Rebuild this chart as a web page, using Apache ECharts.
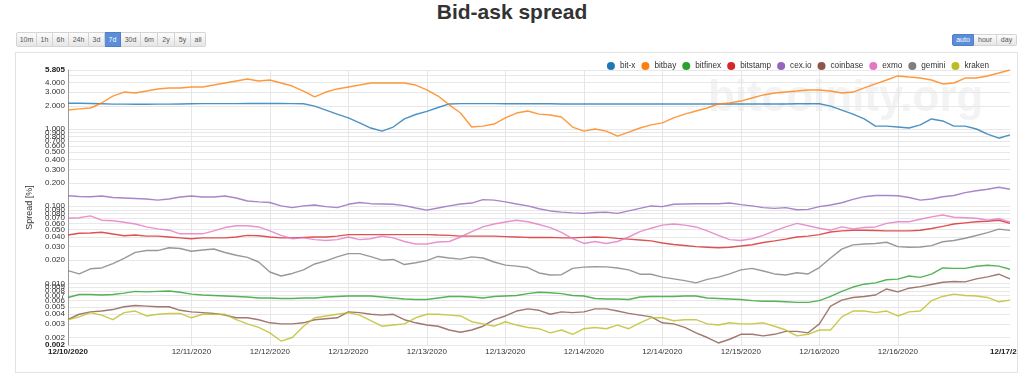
<!DOCTYPE html>
<html>
<head>
<meta charset="utf-8">
<script src="https://cdn.jsdelivr.net/npm/echarts@6/dist/echarts.min.js"></script>
<style>
  html, body { margin: 0; padding: 0; background: #fff; width: 1024px; height: 377px; overflow: hidden; font-family: 'Liberation Sans', Arial, sans-serif; }
  #title { position: absolute; left: 0; top: 0; width: 1024px; line-height: 24px; text-align: center; font-size: 21px; font-weight: bold; color: #333; }
  .btns { position: absolute; display: flex; }
  .btns span { display: block; box-sizing: border-box; text-align: center; font-size: 7px; color: #555;
    background: linear-gradient(#fcfcfc, #e6e6e6); border: 1px solid #d4d4d4; border-left: none; }
  .btns span:first-child { border-left: 1px solid #d4d4d4; border-radius: 2px 0 0 2px; }
  .btns span:last-child { border-radius: 0 2px 2px 0; }
  .btns span.on { background: #5b8dd9; border-color: #4f7fc9; color: #fff; }
  #range { left: 16px; top: 32px; }
  #range span { height: 15px; line-height: 13px; }
  #step { left: 952px; top: 34px; }
  #step span { height: 12px; line-height: 10px; }
  #card { position: absolute; left: 15px; top: 52px; width: 1001px; height: 319px; border: 1px solid #e2e2e2; }
  #chart { position: absolute; left: 0; top: 0; width: 1017px; height: 377px; }
</style>
</head>
<body>
<div id="title">Bid-ask spread</div>
<div id="range" class="btns"></div>
<div id="step" class="btns"></div>
<div id="card"></div>
<div id="chart"></div>
<script>
// 7 days, one point every 2 hours
const hours = Array.from({ length: 85 }, (_, i) => i * 2);

const tickIndex = [0, 11, 18, 25, 32, 39, 46, 53, 60, 67, 74, 84];
const tickLabels = ['12/10/2020', '12/11/2020', '12/12/2020', '12/12/2020', '12/13/2020', '12/13/2020',
  '12/14/2020', '12/14/2020', '12/15/2020', '12/16/2020', '12/16/2020', '12/17/2020'];

const yMin = 0.0016;
const yMax = 5.805;
const yLabelValues = [0.002, 0.003, 0.004, 0.005, 0.006, 0.007, 0.008, 0.009,
  0.01, 0.02, 0.03, 0.04, 0.05, 0.06, 0.07, 0.08, 0.09,
  0.1, 0.2, 0.3, 0.4, 0.5, 0.6, 0.7, 0.8, 0.9,
  1, 2, 3, 4];
const yGridValues = yLabelValues.concat([5]);

const names = ['bit-x', 'bitbay', 'bitfinex', 'bitstamp', 'cex.io', 'coinbase', 'exmo', 'gemini', 'kraken'];
const colors = ['#1f77b4', '#ff7f0e', '#2ca02c', '#d62728', '#9467bd', '#8c564b', '#e377c2', '#7f7f7f', '#bcbd22'];

const bitx = [
  2.15, 2.15, 2.14, 2.12, 2.10, 2.10, 2.09, 2.09, 2.10, 2.10,
  2.11, 2.12, 2.13, 2.13, 2.13, 2.13, 2.14, 2.14, 2.14, 2.14,
  2.13, 2.12, 1.98, 1.76, 1.56, 1.39, 1.20, 1.03, 0.94, 1.06,
  1.35, 1.54, 1.69, 1.90, 2.11, 2.13, 2.13, 2.13, 2.13, 2.12,
  2.12, 2.12, 2.12, 2.12, 2.11, 2.11, 2.11, 2.11, 2.11, 2.11,
  2.11, 2.11, 2.11, 2.11, 2.11, 2.11, 2.11, 2.11, 2.11, 2.11,
  2.11, 2.11, 2.11, 2.11, 2.11, 2.12, 2.12, 2.12, 1.98, 1.76,
  1.56, 1.35, 1.09, 1.09, 1.06, 1.03, 1.13, 1.35, 1.27, 1.09,
  1.09, 1.00, 0.86, 0.76, 0.84
];
const bitbay = [
  1.76, 1.82, 1.87, 2.17, 2.67, 3.01, 2.92, 3.10, 3.30, 3.40,
  3.40, 3.50, 3.50, 3.71, 3.94, 4.18, 4.44, 4.18, 4.31, 3.94,
  3.60, 3.10, 2.60, 3.01, 3.30, 3.50, 3.71, 3.94, 3.94, 3.94,
  3.94, 3.71, 3.20, 2.67, 2.05, 1.61, 1.06, 1.09, 1.16, 1.39,
  1.61, 1.71, 1.56, 1.52, 1.43, 1.06, 0.94, 1.00, 0.94, 0.81,
  0.91, 1.03, 1.13, 1.20, 1.39, 1.56, 1.71, 1.87, 2.11, 2.17,
  2.30, 2.52, 2.76, 2.92, 3.01, 3.10, 3.20, 3.20, 3.10, 2.92,
  3.01, 3.40, 3.83, 4.31, 4.86, 4.71, 4.57, 4.31, 3.83, 3.94,
  4.57, 4.57, 4.86, 5.31, 5.805
];
const bitfinex = [
  0.0066, 0.0072, 0.0072, 0.0071, 0.0072, 0.0075, 0.0079, 0.0078, 0.0079, 0.0080,
  0.0077, 0.0073, 0.0071, 0.0070, 0.0069, 0.0068, 0.0067, 0.0065, 0.0065, 0.0064,
  0.0064, 0.0065, 0.0065, 0.0067, 0.0068, 0.0069, 0.0069, 0.0069, 0.0067, 0.0065,
  0.0063, 0.0062, 0.0062, 0.0065, 0.0068, 0.0068, 0.0067, 0.0065, 0.0068, 0.0069,
  0.0070, 0.0074, 0.0077, 0.0076, 0.0074, 0.0070, 0.0069, 0.0064, 0.0063, 0.0063,
  0.0062, 0.0067, 0.0068, 0.0068, 0.0068, 0.0069, 0.0069, 0.0065, 0.0064, 0.0063,
  0.0062, 0.0060, 0.0059, 0.0059, 0.0058, 0.0057, 0.0057, 0.0060, 0.0068, 0.0079,
  0.0090, 0.0098, 0.0102, 0.0112, 0.0114, 0.0125, 0.0120, 0.0132, 0.0159, 0.0157,
  0.0157, 0.0167, 0.0172, 0.0168, 0.0153
];
const bitstamp = [
  0.0424, 0.0448, 0.0450, 0.0460, 0.0437, 0.0415, 0.0424, 0.0410, 0.0410, 0.0400,
  0.0390, 0.0380, 0.0390, 0.0390, 0.0390, 0.0400, 0.0420, 0.0415, 0.0400, 0.0390,
  0.0390, 0.0395, 0.0400, 0.0400, 0.0410, 0.0430, 0.0430, 0.0430, 0.0430, 0.0430,
  0.0430, 0.0430, 0.0430, 0.0424, 0.0420, 0.0410, 0.0410, 0.0410, 0.0410, 0.0405,
  0.0400, 0.0395, 0.0395, 0.0395, 0.0390, 0.0390, 0.0395, 0.0400, 0.0395, 0.0384,
  0.0375, 0.0366, 0.0356, 0.0335, 0.0320, 0.0310, 0.0300, 0.0295, 0.0290, 0.0295,
  0.0306, 0.0318, 0.0340, 0.0356, 0.0375, 0.0400, 0.0410, 0.0430, 0.0464, 0.0480,
  0.0490, 0.0490, 0.0485, 0.0480, 0.0480, 0.0480, 0.0490, 0.0515, 0.0550, 0.0590,
  0.0610, 0.0630, 0.0640, 0.0660, 0.0600
];
const cexio = [
  0.137, 0.134, 0.133, 0.136, 0.130, 0.128, 0.126, 0.124, 0.120, 0.124,
  0.132, 0.136, 0.132, 0.132, 0.136, 0.128, 0.117, 0.114, 0.112, 0.101,
  0.096, 0.101, 0.104, 0.099, 0.096, 0.106, 0.112, 0.108, 0.107, 0.106,
  0.102, 0.095, 0.089, 0.095, 0.101, 0.107, 0.110, 0.122, 0.120, 0.114,
  0.107, 0.101, 0.093, 0.087, 0.084, 0.082, 0.081, 0.083, 0.084, 0.081,
  0.087, 0.094, 0.101, 0.099, 0.106, 0.107, 0.108, 0.108, 0.108, 0.110,
  0.105, 0.101, 0.096, 0.094, 0.096, 0.090, 0.091, 0.099, 0.104, 0.111,
  0.123, 0.133, 0.138, 0.138, 0.137, 0.130, 0.120, 0.124, 0.133, 0.138,
  0.150, 0.159, 0.166, 0.176, 0.166
];
const coinbase = [
  0.00344, 0.0040, 0.0043, 0.0044, 0.0046, 0.0050, 0.0052, 0.0051, 0.0050, 0.0050,
  0.0045, 0.0043, 0.0042, 0.0041, 0.0039, 0.0036, 0.0036, 0.0034, 0.0031, 0.0030,
  0.0030, 0.0031, 0.0034, 0.0035, 0.0036, 0.0043, 0.0042, 0.0040, 0.0039, 0.0040,
  0.0034, 0.0031, 0.0029, 0.0028, 0.0025, 0.00234, 0.0025, 0.0028, 0.0034, 0.0038,
  0.0044, 0.0047, 0.0045, 0.0040, 0.0043, 0.0042, 0.0043, 0.0047, 0.0047, 0.0044,
  0.0041, 0.0039, 0.0037, 0.0031, 0.0030, 0.0027, 0.0023, 0.0020, 0.0017, 0.0019,
  0.0022, 0.0022, 0.0021, 0.0022, 0.0024, 0.0024, 0.0023, 0.0030, 0.0051, 0.0061,
  0.0066, 0.0068, 0.0071, 0.0085, 0.0078, 0.0087, 0.0091, 0.0097, 0.0104, 0.0106,
  0.0105, 0.0115, 0.0122, 0.0132, 0.0115
];
const exmo = [
  0.070, 0.071, 0.075, 0.066, 0.065, 0.062, 0.059, 0.054, 0.051, 0.049,
  0.044, 0.044, 0.044, 0.048, 0.053, 0.056, 0.056, 0.054, 0.048, 0.042,
  0.038, 0.039, 0.037, 0.036, 0.037, 0.040, 0.037, 0.038, 0.041, 0.039,
  0.035, 0.0325, 0.0325, 0.0345, 0.035, 0.040, 0.047, 0.054, 0.059, 0.0625,
  0.066, 0.063, 0.058, 0.053, 0.046, 0.038, 0.033, 0.035, 0.033, 0.035,
  0.040, 0.047, 0.052, 0.057, 0.059, 0.057, 0.054, 0.048, 0.042, 0.037,
  0.036, 0.038, 0.042, 0.048, 0.054, 0.060, 0.056, 0.052, 0.049, 0.054,
  0.051, 0.053, 0.054, 0.060, 0.063, 0.063, 0.068, 0.073, 0.077, 0.072,
  0.071, 0.070, 0.066, 0.069, 0.0625
];
const gemini = [
  0.0147, 0.0133, 0.0155, 0.0159, 0.0181, 0.0211, 0.0253, 0.0267, 0.0267, 0.0290,
  0.0284, 0.0262, 0.0271, 0.0280, 0.0252, 0.0232, 0.0218, 0.0190, 0.0141, 0.0125,
  0.0135, 0.0150, 0.0179, 0.0196, 0.0221, 0.0244, 0.0244, 0.0223, 0.0201, 0.0205,
  0.0176, 0.0186, 0.0198, 0.0224, 0.0214, 0.0207, 0.0221, 0.0214, 0.0190, 0.0173,
  0.0168, 0.0161, 0.0137, 0.0129, 0.0130, 0.0157, 0.0163, 0.0165, 0.0164, 0.0159,
  0.0150, 0.0132, 0.0132, 0.0121, 0.0115, 0.0109, 0.0102, 0.0113, 0.0121, 0.0133,
  0.0150, 0.0157, 0.0145, 0.0133, 0.0129, 0.0138, 0.0133, 0.0161, 0.0214, 0.0279,
  0.0316, 0.0325, 0.0330, 0.0342, 0.0300, 0.0295, 0.0297, 0.0309, 0.0347, 0.0361,
  0.0385, 0.0418, 0.0455, 0.0506, 0.0487
];
const kraken = [
  0.0034, 0.0037, 0.0042, 0.0039, 0.0034, 0.0042, 0.0044, 0.0038, 0.0040, 0.0041,
  0.0041, 0.0036, 0.0040, 0.0040, 0.0040, 0.0034, 0.0030, 0.0027, 0.0023, 0.0018,
  0.0020, 0.0028, 0.0036, 0.0038, 0.0040, 0.0042, 0.0039, 0.0033, 0.0028, 0.0029,
  0.0030, 0.0036, 0.0040, 0.0040, 0.0039, 0.0038, 0.0032, 0.0030, 0.0028, 0.0032,
  0.0029, 0.0027, 0.0026, 0.0023, 0.0025, 0.0022, 0.0026, 0.0027, 0.0026, 0.0029,
  0.0026, 0.0031, 0.0036, 0.0036, 0.0033, 0.0034, 0.0034, 0.0030, 0.0029, 0.0031,
  0.0030, 0.0030, 0.0031, 0.0028, 0.0025, 0.0021, 0.0022, 0.0025, 0.0025, 0.0037,
  0.0044, 0.0044, 0.0042, 0.0044, 0.0038, 0.0043, 0.0044, 0.0060, 0.0068, 0.0073,
  0.0070, 0.0069, 0.0066, 0.0058, 0.0061
];
const seriesValues = [bitx, bitbay, bitfinex, bitstamp, cexio, coinbase, exmo, gemini, kraken];

const rangeButtons = ['10m', '1h', '6h', '24h', '3d', '7d', '30d', '6m', '2y', '5y', 'all'];
const rangeWidths = [21, 16, 16, 20, 16, 16, 20, 17, 17, 16, 15];
const stepButtons = ['auto', 'hour', 'day'];
const stepWidths = [22, 23, 20];

function fillButtons(id, labels, widths, active) {
  const box = document.getElementById(id);
  labels.forEach((label, i) => {
    const el = document.createElement('span');
    el.textContent = label;
    el.style.width = widths[i] + 'px';
    if (label === active) el.className = 'on';
    box.appendChild(el);
  });
}
fillButtons('range', rangeButtons, rangeWidths, '7d');
fillButtons('step', stepButtons, stepWidths, 'auto');

const logMin = Math.log10(yMin);
const logMax = Math.log10(yMax);
const isEdge = (v) => Math.abs(v - logMin) < 1e-9 || Math.abs(v - logMax) < 1e-9;

const chart = echarts.init(document.getElementById('chart'));

chart.setOption({
  animation: false,
  textStyle: { fontFamily: 'Liberation Sans, Arial, sans-serif' },
  graphic: [{
    type: 'text',
    left: 708,
    top: 77,
    z: 0,
    silent: true,
    style: {
      text: 'bitcoinity.org',
      fontSize: 44,
      fontWeight: 'bold',
      fontFamily: 'Liberation Sans',
      fill: '#f3f3f3'
    }
  }],
  legend: {
    right: 23,
    top: 57,
    icon: 'circle',
    itemWidth: 8,
    itemHeight: 8,
    itemGap: 6,
    textStyle: { fontSize: 8.2, color: '#333' },
    data: names
  },
  grid: {
    left: 68,
    right: 7,
    top: 70,
    bottom: 32,
    outerBoundsMode: 'none'
  },
  xAxis: {
    type: 'category',
    data: hours,
    boundaryGap: false,
    axisLine: { show: false },
    axisTick: { show: false },
    axisLabel: {
      interval: (i) => tickIndex.includes(i),
      margin: 3,
      fontSize: 8,
      color: '#333',
      formatter: (value, i) => {
        const k = tickIndex.indexOf(i);
        if (k < 0) return '';
        if (k === 0 || k === tickIndex.length - 1) return '{b|' + tickLabels[k] + '}';
        return tickLabels[k];
      },
      rich: { b: { fontSize: 8, fontWeight: 'bold', color: '#222' } }
    },
    splitLine: {
      show: true,
      interval: (i) => tickIndex.includes(i) && i !== 0 && i !== 84,
      lineStyle: { color: '#e6e6e6' }
    }
  },
  yAxis: {
    type: 'value',
    min: logMin,
    max: logMax,
    name: 'Spread [%]',
    nameLocation: 'middle',
    nameGap: 26,
    nameTextStyle: { fontSize: 9, color: '#333' },
    axisLine: { show: true, lineStyle: { color: '#999' } },
    axisTick: { show: false, customValues: yGridValues.concat([yMin, yMax]).map(Math.log10) },
    splitLine: { show: true, lineStyle: { color: '#e8e8e8' } },
    axisLabel: {
      customValues: yLabelValues.concat([yMin, yMax]).map(Math.log10),
      margin: 3,
      fontSize: 8,
      color: '#333',
      formatter: (v) => {
        const s = Math.pow(10, v).toFixed(3);
        return isEdge(v) ? '{b|' + s + '}' : s;
      },
      rich: { b: { fontSize: 8, fontWeight: 'bold', color: '#222' } }
    }
  },
  series: names.map((name, k) => ({
    name,
    type: 'line',
    data: seriesValues[k].map((v) => Math.log10(v)),
    symbol: 'none',
    showSymbol: false,
    itemStyle: { color: colors[k] },
    lineStyle: { width: 1.4, opacity: 0.8 },
    z: 3
  }))
});
</script>
</body>
</html>
